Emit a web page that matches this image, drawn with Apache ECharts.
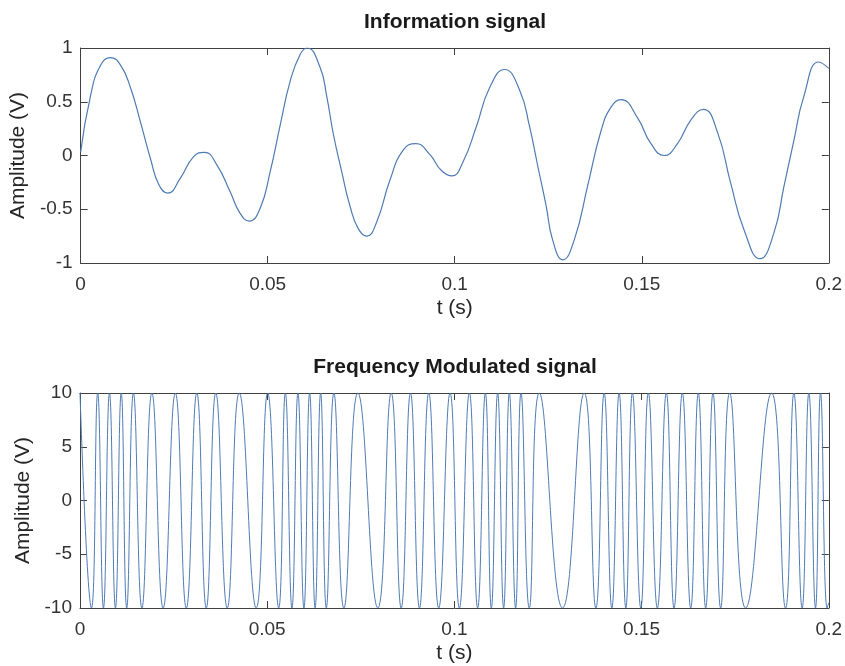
<!DOCTYPE html>
<html lang="en">
<head>
    <meta charset="UTF-8"/>
    <title>FM signal</title>
    <script src="https://cdn.jsdelivr.net/npm/echarts@6/dist/echarts.min.js"></script>
    <style>
        html, body { margin: 0; padding: 0; background: #fff; }
    </style>
</head>
<body>

<div id="main" style="width: 845px;height:666px;"></div>

<script type="text/javascript">
    // information signal (t in s, amplitude in V)
    var infoTime = [0, 0.00267, 0.00533, 0.008, 0.01067, 0.01333, 0.016, 0.01867, 0.02088, 0.02328,
        0.02667, 0.03021, 0.03307, 0.03645, 0.04, 0.04267, 0.04507, 0.048, 0.05067, 0.05333,
        0.056, 0.05867, 0.06053, 0.064, 0.06579, 0.06755, 0.06979, 0.072, 0.07421, 0.07645,
        0.07912, 0.08267, 0.08621, 0.0896, 0.09333, 0.09645, 0.09928, 0.10221, 0.10579, 0.10933,
        0.11333, 0.11733, 0.12, 0.12221, 0.12445, 0.12621, 0.12888, 0.132, 0.13555, 0.13912,
        0.14179, 0.14445, 0.14888, 0.15245, 0.156, 0.15955, 0.16312, 0.16648, 0.17021, 0.17379,
        0.17733, 0.1816, 0.18533, 0.188, 0.19067, 0.19333, 0.19733, 0.2];
    var infoAmp = [0.03, 0.56, 0.84, 0.91, 0.84, 0.63, 0.31, -0.03, -0.27, -0.35,
        -0.21, -0.01, 0.03, -0.09, -0.34, -0.54, -0.61, -0.49, -0.15, 0.28,
        0.69, 0.94, 1.0, 0.82, 0.55, 0.2, -0.15, -0.47, -0.68, -0.75,
        -0.62, -0.23, 0.05, 0.11, 0.01, -0.14, -0.19, -0.06, 0.27, 0.63,
        0.80, 0.61, 0.27, -0.10, -0.47, -0.79, -0.97, -0.78, -0.28, 0.23,
        0.45, 0.52, 0.35, 0.11, 0.0, 0.11, 0.33, 0.43, 0.22, -0.26,
        -0.69, -0.96, -0.72, -0.29, 0.14, 0.55, 0.87, 0.81];

    // frequency modulated signal: times of the crests and troughs
    var fmTime = [0, 0.00307, 0.00472, 0.00627, 0.00787, 0.00947, 0.01101, 0.01248, 0.01427, 0.01653,
        0.0192, 0.02221, 0.02547, 0.0284, 0.0312, 0.03373, 0.03627, 0.03933, 0.04253, 0.04707,
        0.05013, 0.05307, 0.05485, 0.05661, 0.05821, 0.05981, 0.06133, 0.0628, 0.06427, 0.06579,
        0.06781, 0.07048, 0.07421, 0.07955, 0.08312, 0.08579, 0.08827, 0.09067, 0.09315, 0.09581,
        0.09885, 0.10133, 0.104, 0.10621, 0.10827, 0.10987, 0.11155, 0.11315, 0.11467, 0.11635,
        0.11779, 0.12, 0.12267, 0.12888, 0.13467, 0.13779, 0.14, 0.14205, 0.144, 0.14579,
        0.14755, 0.14979, 0.15181, 0.15421, 0.15661, 0.15867, 0.16088, 0.16312, 0.16515, 0.16712,
        0.16907, 0.17112, 0.17352, 0.17779, 0.18472, 0.18845, 0.19067, 0.19288, 0.19467, 0.19645,
        0.19779, 0.19955, 0.2];
    var fmAmp = [10, -10, 10, -10, 10, -10, 10, -10, 10, -10,
        10, -10, 10, -10, 10, -10, 10, -10, 10, -10,
        10, -10, 10, -10, 10, -10, 10, -10, 10, -10,
        10, -10, 10, -10, 10, -10, 10, -10, 10, -10,
        10, -10, 10, -10, 10, -10, 10, -10, 10, -10,
        10, -10, 10, -10, 10, -10, 10, -10, 10, -10,
        10, -10, 10, -10, 10, -10, 10, -10, 10, -10,
        10, -10, 10, -10, 10, -10, 10, -10, 10, -10,
        10, -10, -9.5];

    var xTicks = [0, 0.05, 0.1, 0.15, 0.2];
    var infoTicks = [-1, -0.5, 0, 0.5, 1];
    var fmTicks = [-10, -5, 0, 5, 10];

    var font = 'Liberation Sans, Arial, Helvetica, sans-serif';
    var axisColor = '#404040';
    var lineColor = '#4f7bb3';

    function pairs(xs, ys) {
        var out = [];
        for (var i = 0; i < xs.length; i++) {
            out.push([xs[i], ys[i]]);
        }
        return out;
    }

    function xAxisOf(grid, pos, withLabels) {
        return {
            type: 'value',
            gridIndex: grid,
            position: pos,
            min: xTicks[0],
            max: xTicks[xTicks.length - 1],
            interval: xTicks[1] - xTicks[0],
            name: withLabels ? 't (s)' : '',
            nameLocation: 'middle',
            nameGap: 35,
            nameTextStyle: {color: '#262626', fontFamily: font, fontSize: 21},
            axisLine: {show: true, onZero: false, lineStyle: {color: axisColor, width: 1}},
            axisTick: {show: true, inside: true, length: 7, lineStyle: {color: axisColor}},
            axisLabel: {show: withLabels, margin: 12, color: '#333', fontFamily: font, fontSize: 19},
            splitLine: {show: false}
        };
    }

    function yAxisOf(grid, pos, ticks, withLabels) {
        return {
            type: 'value',
            gridIndex: grid,
            position: pos,
            min: ticks[0],
            max: ticks[ticks.length - 1],
            interval: ticks[1] - ticks[0],
            name: withLabels ? 'Amplitude (V)' : '',
            nameLocation: 'middle',
            nameGap: 46,
            nameTextStyle: {color: '#262626', fontFamily: font, fontSize: 21},
            axisLine: {show: true, onZero: false, lineStyle: {color: axisColor, width: 1}},
            axisTick: {show: true, inside: true, length: 7, lineStyle: {color: axisColor}},
            axisLabel: {show: withLabels, margin: 8, color: '#333', fontFamily: font, fontSize: 19},
            splitLine: {show: false}
        };
    }

    var myChart = echarts.init(document.getElementById('main'));

    option = {
        animation: false,
        backgroundColor: '#fff',
        grid: [
            {left: 80, right: 15, top: 48, height: 215},
            {left: 80, right: 15, top: 393, height: 215}
        ],
        graphic: [
            {
                type: 'text', x: 455, y: 22,
                style: {text: 'Information signal', fill: '#1a1a1a', font: 'bold 21px ' + font,
                    textAlign: 'center', textVerticalAlign: 'middle'}
            },
            {
                type: 'text', x: 455, y: 367,
                style: {text: 'Frequency Modulated signal', fill: '#1a1a1a', font: 'bold 21px ' + font,
                    textAlign: 'center', textVerticalAlign: 'middle'}
            }
        ],
        xAxis: [
            xAxisOf(0, 'bottom', true),
            xAxisOf(0, 'top', false),
            xAxisOf(1, 'bottom', true),
            xAxisOf(1, 'top', false)
        ],
        yAxis: [
            yAxisOf(0, 'left', infoTicks, true),
            yAxisOf(0, 'right', infoTicks, false),
            yAxisOf(1, 'left', fmTicks, true),
            yAxisOf(1, 'right', fmTicks, false)
        ],
        series: [
            {
                name: 'Information signal',
                type: 'line',
                xAxisIndex: 0,
                yAxisIndex: 0,
                data: pairs(infoTime, infoAmp),
                smooth: 0.5,
                showSymbol: false,
                lineStyle: {color: lineColor, width: 1.2}
            },
            {
                name: 'Frequency Modulated signal',
                type: 'line',
                xAxisIndex: 2,
                yAxisIndex: 2,
                data: pairs(fmTime, fmAmp),
                smooth: 0.5,
                showSymbol: false,
                lineStyle: {color: lineColor, width: 1}
            }
        ]
    };

    myChart.setOption(option);
</script>
</body>
</html>
